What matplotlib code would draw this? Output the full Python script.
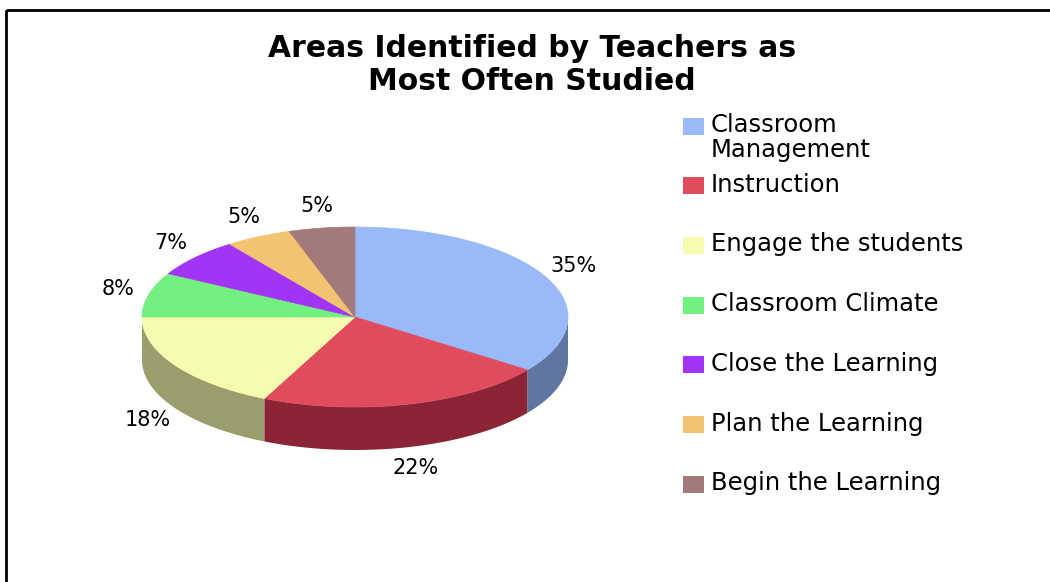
#Purpose: 3D style pie chart of areas most often studied by teachers

import matplotlib
matplotlib.use('Agg')
import matplotlib.pyplot as plt
from matplotlib.patches import Polygon, Rectangle
import numpy as np

#Chart data
categories = ['Classroom\nManagement', 'Instruction', 'Engage the students',
              'Classroom Climate', 'Close the Learning', 'Plan the Learning',
              'Begin the Learning']
percents = [35, 22, 18, 8, 7, 5, 5]
top_colors = ['#99b9f8', '#e04c5e', '#f5fbaf', '#73f07f', '#a234f8', '#f2c371', '#a27a7a']
side_colors = ['#5f77a0', '#8b2535', '#9c9d6c', '#4b9a52', '#6a22a0', '#9c7e49', '#6a4f4f']
title = 'Areas Identified by Teachers as\nMost Often Studied'

#Pie geometry in pixel coordinates
CX, CY = 355, 317
RX, RY = 213, 90
DEPTH = 43


def ellipse_point(theta, dy=0, grow=(0, 0)):
    """Point on the top ellipse, theta in degrees clockwise from 12 o'clock"""
    t = np.radians(theta)
    return CX + (RX + grow[0]) * np.sin(t), CY - (RY + grow[1]) * np.cos(t) + dy


def draw_pie(ax):
    """Draw side walls then top faces of every slice"""

    bounds = np.cumsum([0] + percents) / sum(percents) * 360

    #Side walls, only the front half of the disc is visible
    for i in range(len(percents)):
        a0, a1 = max(bounds[i], 90), min(bounds[i + 1], 270)
        if a1 <= a0:
            continue
        ts = np.linspace(a0, a1, 80)
        top = [ellipse_point(t) for t in ts]
        bottom = [ellipse_point(t, DEPTH) for t in ts[::-1]]
        ax.add_patch(Polygon(top + bottom, closed=True, fc=side_colors[i], ec='none'))

    #Top faces
    for i in range(len(percents)):
        ts = np.linspace(bounds[i], bounds[i + 1], 120)
        pts = [(CX, CY)] + [ellipse_point(t) for t in ts]
        ax.add_patch(Polygon(pts, closed=True, fc=top_colors[i], ec=top_colors[i], lw=0.5))

    #Percentage labels outside the disc
    for i, p in enumerate(percents):
        mid = (bounds[i] + bounds[i + 1]) / 2
        dy = DEPTH if np.cos(np.radians(mid)) < 0 else 0
        x, y = ellipse_point(mid, dy, grow=(32, 22))
        ax.text(x, y, f'{p}%', ha='center', va='center', fontsize=15, color='black')


def draw_legend(ax):
    """Legend squares and labels on the right"""

    for i, label in enumerate(categories):
        y = 126 + i * 59.7
        ax.add_patch(Rectangle((683, y - 8.5), 21, 17, fc=top_colors[i], ec='none'))
        ax.text(711, y - 13, label, ha='left', va='top', fontsize=17.5,
                linespacing=1.07, color='black')


fig = plt.figure(figsize=(10.5, 5.82), dpi=100)
ax = fig.add_axes([0, 0, 1, 1])
ax.set_xlim(0, 1050)
ax.set_ylim(582, 0)
ax.axis('off')

#Chart border, runs off the right and bottom of the picture
ax.add_patch(Rectangle((6, 10), 1100, 600, fc='none', ec='black', lw=2))

ax.text(532, 65, title, ha='center', va='center', fontsize=21.5, fontweight='bold',
        linespacing=1.17)

draw_pie(ax)
draw_legend(ax)

fig.savefig('out.png', dpi=100)
